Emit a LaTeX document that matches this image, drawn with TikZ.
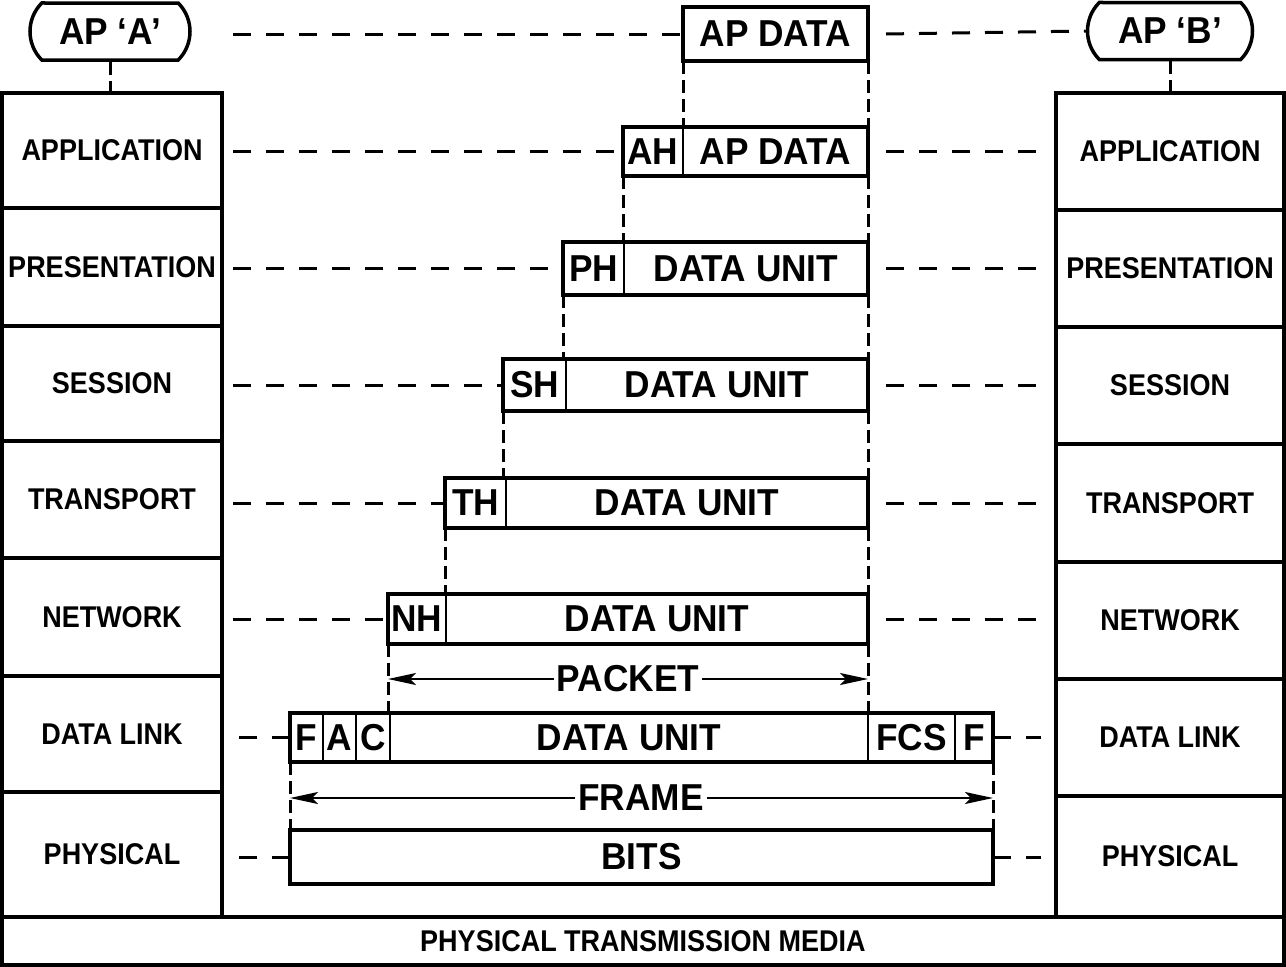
\documentclass[tikz,border=0pt]{standalone}
\usepackage{fontspec}
\setmainfont{Liberation Sans}[FakeStretch=0.9]
\newfontfamily\midfam{Liberation Sans}[FakeStretch=0.94]
\usetikzlibrary{arrows.meta,shapes.misc}
\newcommand\stkf{\fontsize{30}{32}\selectfont\bfseries}
\newcommand\midf{\midfam\fontsize{37.5}{40}\selectfont\bfseries}
\tikzset{
  stk/.style={draw, line width=3.5pt, inner sep=0pt, outer sep=0pt, anchor=north west, font=\stkf},
  cellx/.style={inner sep=0pt, outer sep=0pt, anchor=north west, font=\midf},
  frm/.style={line width=3.5pt},
  divd/.style={line width=2.5pt},
  hdash/.style={line width=3pt, dash pattern=on 18pt off 15pt},
  vdash/.style={line width=3pt, dash pattern=on 13pt off 6pt},
  arr/.style={line width=2pt, -{Stealth[length=28pt,width=12pt,inset=6pt]}},
  apbox/.style={draw, line width=3.5pt, rounded rectangle, rounded rectangle arc length=90,
    minimum width=160pt, minimum height=57pt, inner sep=0pt, font=\midf},
  lbl/.style={font=\midf, inner sep=3pt},
}
\newcommand\stkcell[6]{\node[stk, minimum width=#4pt, minimum height=#5pt] (#1) at (#2,#3) {#6};}
\newcommand\midcell[6]{\node[cellx, minimum width=#4pt, minimum height=#5pt] (#1) at (#2,#3) {#6};}
\begin{document}
\begin{tikzpicture}[x=1pt,y=-1pt]
\useasboundingbox (0,0) rectangle (1286,967);
% left stack
\stkcell{la}{2}{93}{220}{115}{APPLICATION}
\stkcell{lp}{2}{208}{220}{118}{PRESENTATION}
\stkcell{ls}{2}{326}{220}{115}{SESSION}
\stkcell{lt}{2}{441}{220}{117}{TRANSPORT}
\stkcell{ln}{2}{558}{220}{118}{NETWORK}
\stkcell{ld}{2}{676}{220}{116}{DATA LINK}
\stkcell{lph}{2}{792}{220}{125}{PHYSICAL}
% right stack
\stkcell{ra}{1056}{93}{228}{117}{APPLICATION}
\stkcell{rp}{1056}{210}{228}{117}{PRESENTATION}
\stkcell{rs}{1056}{327}{228}{117}{SESSION}
\stkcell{rt}{1056}{444}{228}{118}{TRANSPORT}
\stkcell{rn}{1056}{562}{228}{117}{NETWORK}
\stkcell{rd}{1056}{679}{228}{117}{DATA LINK}
\stkcell{rph}{1056}{796}{228}{121}{PHYSICAL}
% media
\stkcell{media}{2}{917}{1282}{48}{PHYSICAL TRANSMISSION MEDIA}
% AP boxes
\node[apbox] (apa) at (110,31.5) {AP ‘A’};
\node[apbox, minimum width=165pt] (apb) at (1170,31) {AP ‘B’};
\draw[vdash] (apa.south) -- (apa.south |- la.north);
\draw[vdash] (apb.south) -- (apb.south |- ra.north);
% middle boxes
\midcell{apd}{683}{7}{185}{54}{AP DATA}
\draw[frm] (apd.north west) rectangle (apd.south east);
\midcell{ah}{623}{127}{60}{49}{AH}
\midcell{ahd}{683}{127}{185}{49}{AP DATA}
\draw[frm] (ah.north west) rectangle (ahd.south east);
\draw[divd] (ah.north east) -- (ah.south east);
\midcell{ph}{563}{242}{61}{53}{PH}
\midcell{phd}{624}{242}{244}{53}{DATA UNIT}
\draw[frm] (ph.north west) rectangle (phd.south east);
\draw[divd] (ph.north east) -- (ph.south east);
\midcell{sh}{503}{359}{63}{52}{SH}
\midcell{shd}{566}{359}{302}{52}{DATA UNIT}
\draw[frm] (sh.north west) rectangle (shd.south east);
\draw[divd] (sh.north east) -- (sh.south east);
\midcell{th}{445}{478}{61}{50}{TH}
\midcell{thd}{506}{478}{362}{50}{DATA UNIT}
\draw[frm] (th.north west) rectangle (thd.south east);
\draw[divd] (th.north east) -- (th.south east);
\midcell{nh}{388}{594}{58}{50}{NH}
\midcell{nhd}{446}{594}{422}{50}{DATA UNIT}
\draw[frm] (nh.north west) rectangle (nhd.south east);
\draw[divd] (nh.north east) -- (nh.south east);
\midcell{fa}{290}{713}{33}{49}{F}
\midcell{aa}{323}{713}{33}{49}{A}
\midcell{ca}{356}{713}{34}{49}{C}
\midcell{dld}{390}{713}{478}{49}{DATA UNIT}
\midcell{fcs}{868}{713}{87}{49}{FCS}
\midcell{fb}{955}{713}{38}{49}{F}
\draw[frm] (fa.north west) rectangle (fb.south east);
\foreach \c in {fa,aa,ca,dld,fcs}{\draw[divd] (\c.north east) -- (\c.south east);}
\midcell{bits}{290}{830}{703}{54}{BITS}
\draw[frm] (bits.north west) rectangle (bits.south east);
% vertical dashed guides
\draw[vdash] (apd.south west) -- (ahd.north west);
\draw[vdash] (apd.south east) -- (ahd.north east);
\draw[vdash] (ahd.south east) -- (phd.north east);
\draw[vdash] (phd.south east) -- (shd.north east);
\draw[vdash] (shd.south east) -- (thd.north east);
\draw[vdash] (thd.south east) -- (nhd.north east);
\draw[vdash] (nhd.south east) -- (dld.north east);
\draw[vdash] (ah.south west) -- (ah.south west |- ph.north);
\draw[vdash] (ph.south west) -- (ph.south west |- sh.north);
\draw[vdash] (sh.south west) -- (sh.south west |- th.north);
\draw[vdash] (th.south west) -- (th.south west |- nh.north);
\draw[vdash] (nh.south west) -- (nh.south west |- ca.north);
\draw[vdash] (fa.south west) -- (fa.south west |- bits.north);
\draw[vdash] (fb.south east) -- (fb.south east |- bits.north);
% packet and frame arrows
\node[lbl] (packet) at (628,679) {PACKET};
\draw[arr] (packet.west) -- (packet.west -| nh.west);
\draw[arr] (packet.east) -- (packet.east -| nhd.east);
\node[lbl] (frame) at (641,798) {FRAME};
\draw[arr] (frame.west) -- (frame.west -| fa.west);
\draw[arr] (frame.east) -- (frame.east -| fb.east);
% horizontal dashed peer lines
\coordinate (lx) at (233,0);
\coordinate (rx) at (886,0);
\coordinate (rend) at (1041,0);
\draw[hdash] (apd.west -| lx) -- (apd.west);
\draw[hdash] (apd.east -| rx) -- (apb.west);
\foreach \h/\d in {ah/ahd,ph/phd,sh/shd,th/thd,nh/nhd}{
  \draw[hdash] (\h.west -| lx) -- (\h.west);
  \draw[hdash] (\d.east -| rx) -- (\d.east -| rend);
}
\draw[hdash] (fa.west) -- (fa.west -| lx);
\draw[hdash] (fb.east) -- (fb.east -| rend);
\draw[hdash] (bits.west) -- (bits.west -| lx);
\draw[hdash] (bits.east) -- (bits.east -| rend);
\end{tikzpicture}
\end{document}
